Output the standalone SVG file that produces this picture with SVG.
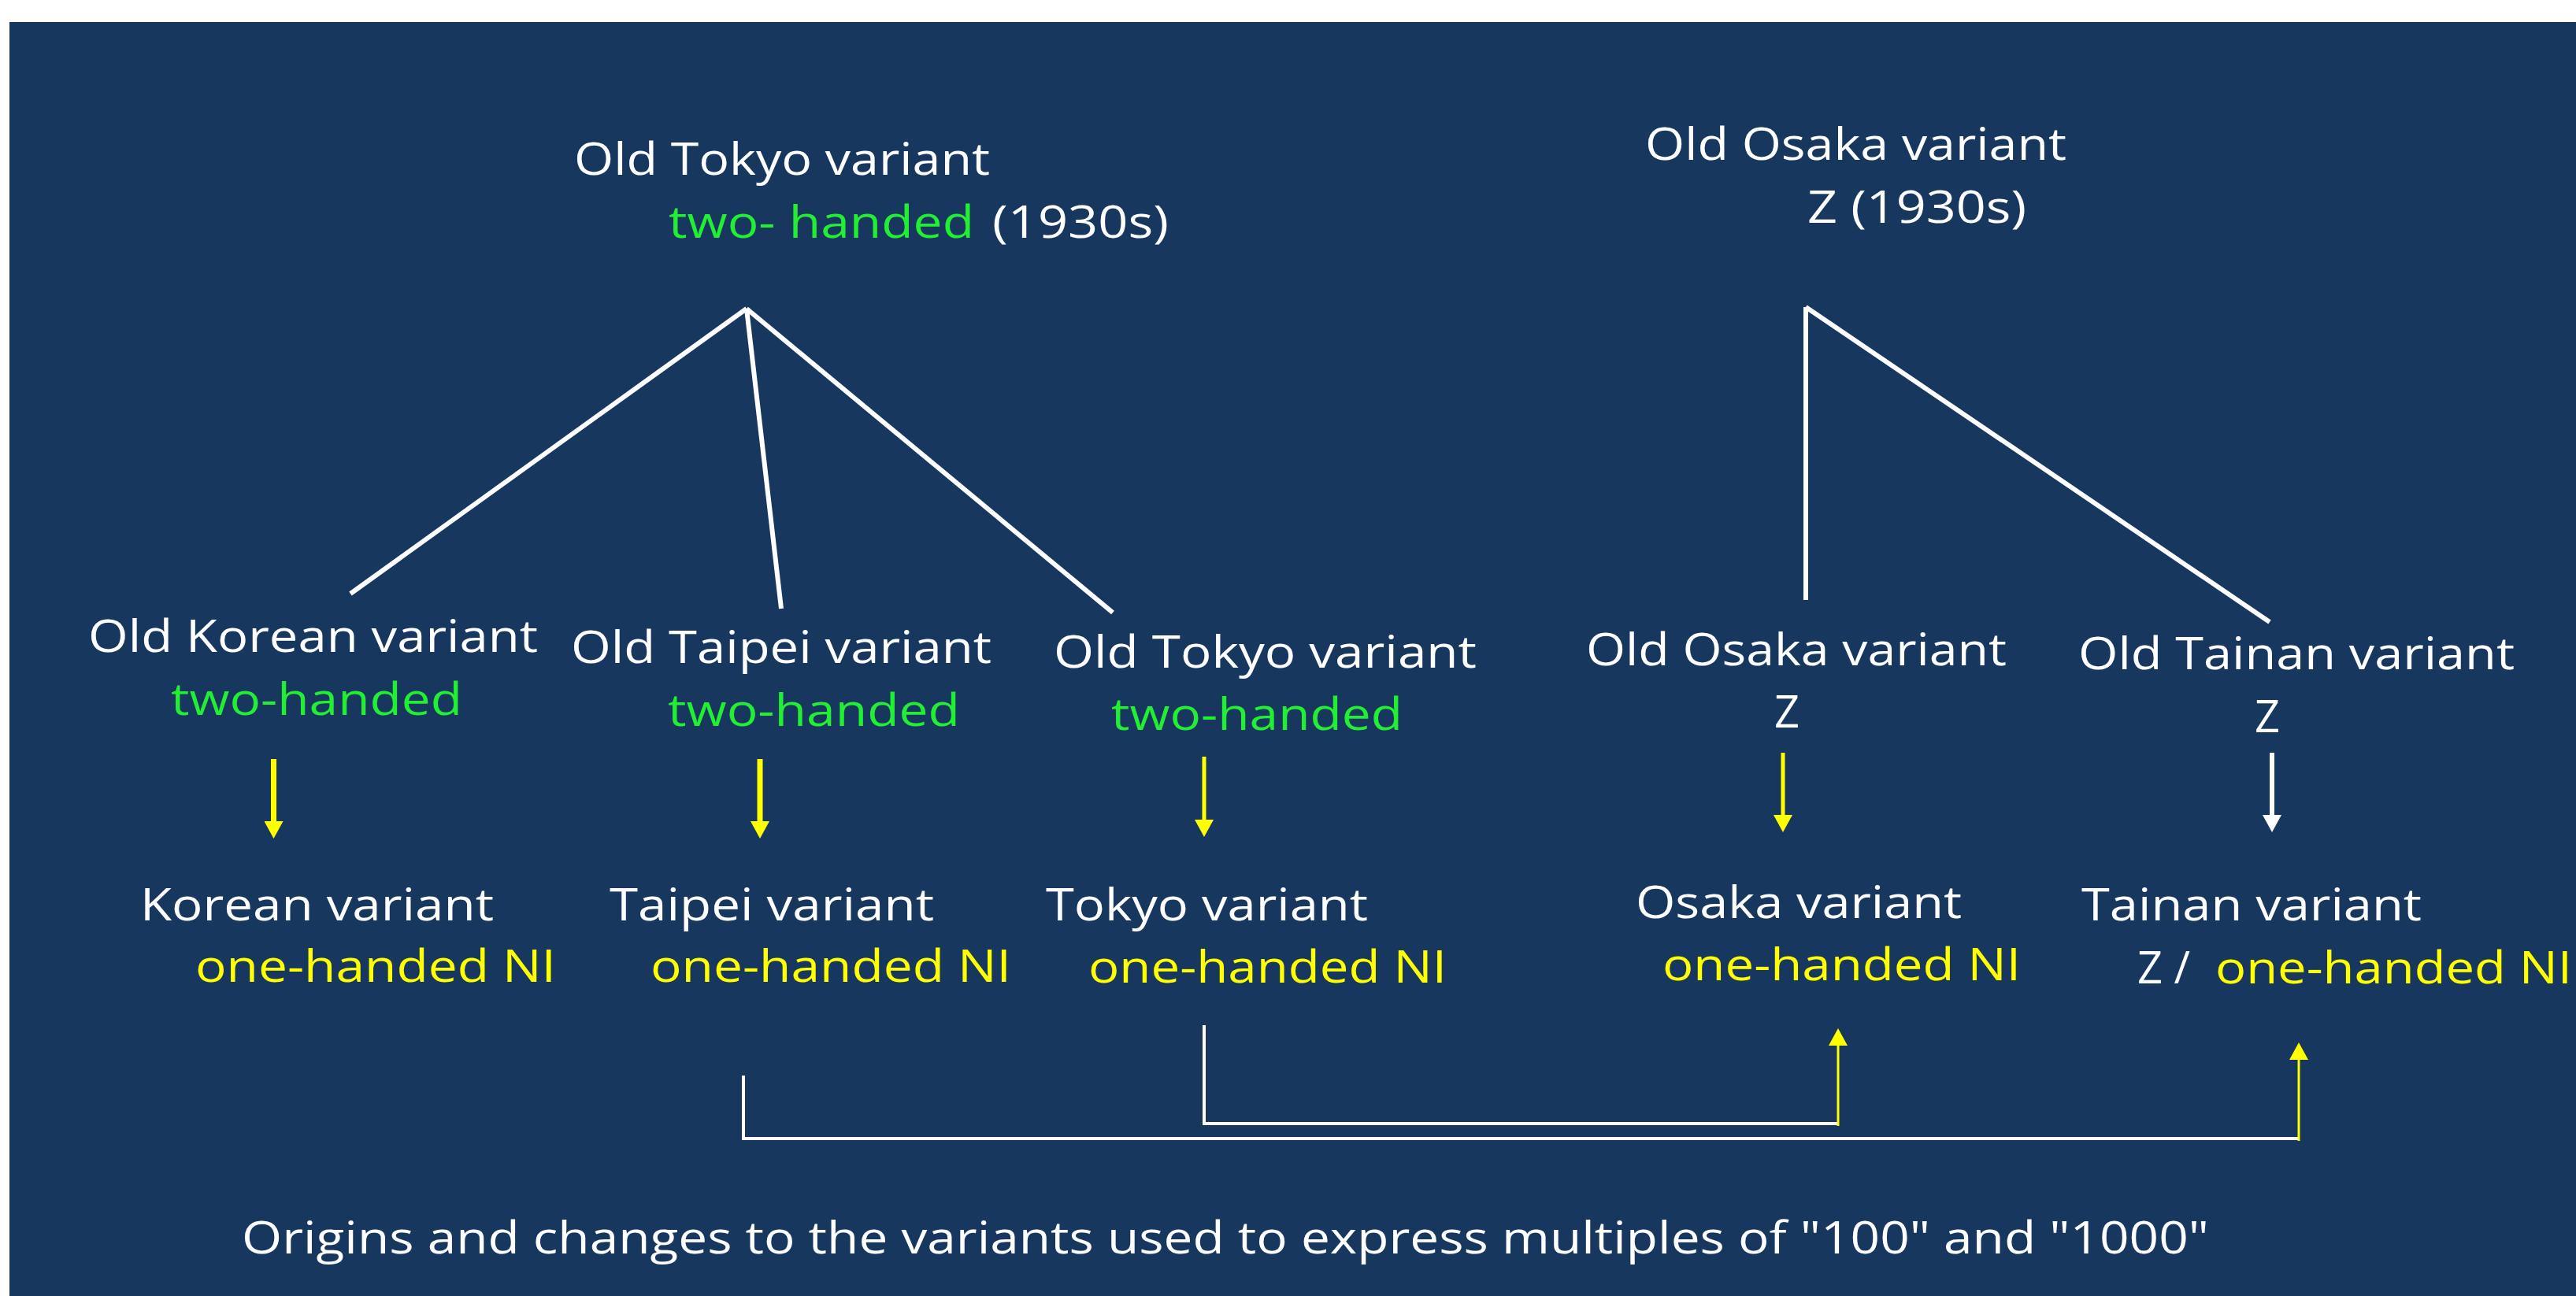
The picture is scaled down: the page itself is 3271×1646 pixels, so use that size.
<svg xmlns="http://www.w3.org/2000/svg" width="3271" height="1646" viewBox="0 0 3271 1646">
  <style>
    text { font-family: "Open Sans", "Noto Sans", "DejaVu Sans", sans-serif; font-size: 56px; }
    .w { fill: #FFFFFF; }
    .g { fill: #22EE33; }
    .y { fill: #FFFF00; }
    .tree { stroke: #FFFFFF; stroke-width: 6; fill: none; stroke-linecap: butt; }
    .link { stroke: #FFFFFF; stroke-width: 4; fill: none; }
    .ya { stroke: #FFFF00; fill: none; }
    .wa { stroke: #FFFFFF; fill: none; }
  </style>
  <defs>
    <marker id="headY" viewBox="0 0 22 24" refX="0" refY="12" markerWidth="22" markerHeight="24" markerUnits="userSpaceOnUse" orient="auto">
      <path d="M0,0 L22,12 L0,24 Z" fill="#FFFF00"/>
    </marker>
    <marker id="headW" viewBox="0 0 22 24" refX="0" refY="12" markerWidth="22" markerHeight="24" markerUnits="userSpaceOnUse" orient="auto">
      <path d="M0,0 L22,12 L0,24 Z" fill="#FFFFFF"/>
    </marker>
  </defs>
  <rect x="12" y="28" width="3259" height="1618" fill="#17375E"/>

  <g id="connectors">
    <line class="tree" x1="948" y1="392" x2="445" y2="754"/>
    <line class="tree" x1="948" y1="392" x2="992" y2="773"/>
    <line class="tree" x1="948" y1="392" x2="1413" y2="778"/>
    <line class="tree" x1="2293" y1="390" x2="2293" y2="762"/>
    <line class="tree" x1="2293" y1="390" x2="2882" y2="790"/>

    <line class="ya" stroke-width="7" x1="347.5" y1="964" x2="347.5" y2="1043" marker-end="url(#headY)"/>
    <line class="ya" stroke-width="7" x1="965" y1="964" x2="965" y2="1043" marker-end="url(#headY)"/>
    <line class="ya" stroke-width="5" x1="1529" y1="961" x2="1529" y2="1041" marker-end="url(#headY)"/>
    <line class="ya" stroke-width="5" x1="2264" y1="956" x2="2264" y2="1035" marker-end="url(#headY)"/>
    <line class="wa" stroke-width="6" x1="2885" y1="956" x2="2885" y2="1035" marker-end="url(#headW)"/>

    <polyline class="link" points="944,1366 944,1446 2919,1446"/>
    <line class="ya" stroke-width="3" x1="2919" y1="1449" x2="2919" y2="1346" marker-end="url(#headY)"/>
    <polyline class="link" points="1529,1302 1529,1427 2334,1427"/>
    <line class="ya" stroke-width="3" x1="2334" y1="1430" x2="2334" y2="1328" marker-end="url(#headY)"/>
  </g>

  <g id="old-tokyo-1930s">
    <text class="w" x="729" y="222" textLength="528" lengthAdjust="spacingAndGlyphs">Old Tokyo variant</text>
    <text class="g" x="849" y="302" textLength="388" lengthAdjust="spacingAndGlyphs">two- handed</text>
    <text class="w" x="1260" y="302" textLength="224" lengthAdjust="spacingAndGlyphs">(1930s)</text>
  </g>
  <g id="old-osaka-1930s">
    <text class="w" x="2089" y="203" textLength="535" lengthAdjust="spacingAndGlyphs">Old Osaka variant</text>
    <text class="w" x="2295" y="283" textLength="278" lengthAdjust="spacingAndGlyphs">Z (1930s)</text>
  </g>

  <g id="old-korean">
    <text class="w" x="112" y="828" textLength="571" lengthAdjust="spacingAndGlyphs">Old Korean variant</text>
    <text class="g" x="217" y="908" textLength="370" lengthAdjust="spacingAndGlyphs">two-handed</text>
  </g>
  <g id="old-taipei">
    <text class="w" x="725" y="842" textLength="534" lengthAdjust="spacingAndGlyphs">Old Taipei variant</text>
    <text class="g" x="848" y="922" textLength="371" lengthAdjust="spacingAndGlyphs">two-handed</text>
  </g>
  <g id="old-tokyo">
    <text class="w" x="1338" y="848" textLength="537" lengthAdjust="spacingAndGlyphs">Old Tokyo variant</text>
    <text class="g" x="1411" y="927" textLength="370" lengthAdjust="spacingAndGlyphs">two-handed</text>
  </g>
  <g id="old-osaka">
    <text class="w" x="2014" y="845" textLength="534" lengthAdjust="spacingAndGlyphs">Old Osaka variant</text>
    <text class="w" x="2253" y="924">Z</text>
  </g>
  <g id="old-tainan">
    <text class="w" x="2639" y="850" textLength="554" lengthAdjust="spacingAndGlyphs">Old Tainan variant</text>
    <text class="w" x="2863" y="930">Z</text>
  </g>

  <g id="korean">
    <text class="w" x="178" y="1169" textLength="449" lengthAdjust="spacingAndGlyphs">Korean variant</text>
    <text class="y" x="248" y="1247" textLength="458" lengthAdjust="spacingAndGlyphs">one-handed NI</text>
  </g>
  <g id="taipei">
    <text class="w" x="774" y="1169" textLength="412" lengthAdjust="spacingAndGlyphs">Taipei variant</text>
    <text class="y" x="826" y="1247" textLength="458" lengthAdjust="spacingAndGlyphs">one-handed NI</text>
  </g>
  <g id="tokyo">
    <text class="w" x="1328" y="1169" textLength="409" lengthAdjust="spacingAndGlyphs">Tokyo variant</text>
    <text class="y" x="1382" y="1248" textLength="455" lengthAdjust="spacingAndGlyphs">one-handed NI</text>
  </g>
  <g id="osaka">
    <text class="w" x="2077" y="1166" textLength="414" lengthAdjust="spacingAndGlyphs">Osaka variant</text>
    <text class="y" x="2111" y="1245" textLength="455" lengthAdjust="spacingAndGlyphs">one-handed NI</text>
  </g>
  <g id="tainan">
    <text class="w" x="2643" y="1169" textLength="432" lengthAdjust="spacingAndGlyphs">Tainan variant</text>
    <text class="w" x="2714" y="1249">Z /</text>
    <text class="y" x="2813" y="1249" textLength="453" lengthAdjust="spacingAndGlyphs">one-handed NI</text>
  </g>

  <g id="caption">
    <text class="w" x="307" y="1592" textLength="2498" lengthAdjust="spacingAndGlyphs">Origins and changes to the variants used to express multiples of "100" and "1000"</text>
  </g>
</svg>
